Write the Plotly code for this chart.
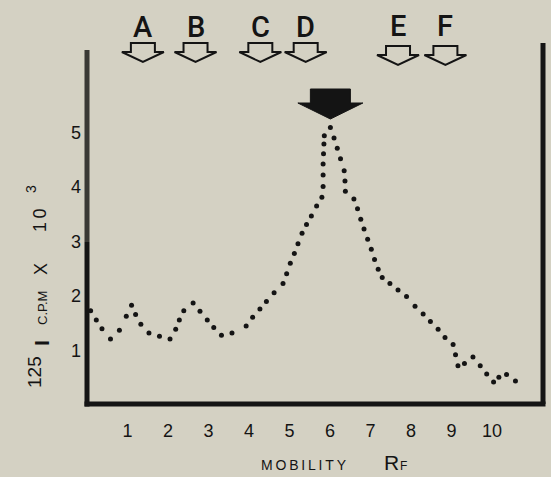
import plotly.graph_objects as go

# ---------------- data ----------------
mobility_rf = [0.09, 0.23, 0.37, 0.58, 0.80, 0.97, 1.10, 1.20, 1.33, 1.53, 1.79, 2.05,
               2.19, 2.28, 2.39, 2.62, 2.79, 2.97, 3.13, 3.32, 3.58, 3.93, 4.09, 4.27,
               4.43, 4.62, 4.84, 4.93, 5.02, 5.12, 5.21, 5.31, 5.42, 5.54, 5.67, 5.80,
               5.83, 5.83, 5.83, 5.84, 5.85, 5.86, 6.01, 6.10, 6.18, 6.26, 6.35, 6.37,
               6.38, 6.59, 6.68, 6.76, 6.84, 6.93, 7.02, 7.10, 7.19, 7.29, 7.48, 7.68,
               7.89, 8.10, 8.30, 8.48, 8.67, 8.84, 9.04, 9.10, 9.16, 9.32, 9.53, 9.71,
               9.87, 10.04, 10.17, 10.36, 10.58]
cpm_x1000 = [1.73, 1.56, 1.40, 1.21, 1.37, 1.63, 1.83, 1.66, 1.48, 1.32, 1.26, 1.21,
             1.39, 1.56, 1.73, 1.87, 1.72, 1.56, 1.42, 1.28, 1.32, 1.45, 1.61, 1.76,
             1.90, 2.06, 2.23, 2.41, 2.60, 2.78, 2.96, 3.15, 3.31, 3.47, 3.65, 3.81,
             4.01, 4.22, 4.42, 4.61, 4.79, 4.94, 5.09, 4.90, 4.71, 4.52, 4.30, 4.11,
             3.92, 3.78, 3.60, 3.41, 3.23, 3.04, 2.86, 2.67, 2.49, 2.34, 2.23, 2.11,
             1.99, 1.81, 1.67, 1.53, 1.39, 1.24, 1.11, 0.92, 0.72, 0.76, 0.88, 0.72,
             0.57, 0.42, 0.51, 0.56, 0.44]
band_labels = ["A", "B", "C", "D", "E", "F"]
band_rf = [1.38, 2.68, 4.28, 5.40, 7.68, 8.85]
peak_rf = 6.01
x_tick_vals = [1, 2, 3, 4, 5, 6, 7, 8, 9, 10]
y_tick_vals = [1, 2, 3, 4, 5]

# ---------------- layout constants ----------------
W, H = 551, 477
ML, MR, MT, MB = 87, 8, 10, 72
X_MAX = 11.26
Y_MAX = 7.248
PW = W - ML - MR
PH = H - MT - MB
SX = PW / X_MAX
SY = PH / Y_MAX
BG = "#d4d1c3"
INK = "#141414"
ARROW_TOP_PX = [43, 43, 43, 43, 46, 46]
LETTER_Y_PX = [27, 27, 27, 27, 26, 26]
THIN = "\u2009"


def pxx(px):
    return (px - ML) / PW


def pxy(py):
    return (H - MB - py) / PH


def ydata(py):
    return (H - MB - py) / SY


fig = go.Figure()
fig.add_trace(go.Scatter(
    x=mobility_rf, y=cpm_x1000, mode="markers",
    marker=dict(size=5, color=INK), cliponaxis=False, hoverinfo="skip"))

shapes = []
annotations = []

# open arrows with letters
open_pts = [(-12, 0), (12, 0), (12, 9), (21, 9), (0, 19), (-21, 9), (-12, 9)]
for lab, xc, top, ly in zip(band_labels, band_rf, ARROW_TOP_PX, LETTER_Y_PX):
    path = ""
    for i, (dx, dy) in enumerate(open_pts):
        path += ("M" if i == 0 else "L") + f"{xc + dx / SX:.4f},{ydata(top + dy):.4f} "
    path += "Z"
    shapes.append(dict(type="path", xref="x", yref="y", path=path,
                       line=dict(color=INK, width=2), fillcolor="rgba(0,0,0,0)"))
    annotations.append(dict(x=xc, y=pxy(ly), xref="x", yref="paper", text=lab,
                            showarrow=False, xanchor="center", yanchor="middle",
                            font=dict(family="Roboto, Liberation Sans, Arial", size=29,
                                      color=INK, weight=500)))

# solid peak arrow
solid_pts = [(-20, 0), (20, 0), (20, 14), (32.5, 14), (0, 30), (-32.5, 14), (-20, 14)]
path = ""
for i, (dx, dy) in enumerate(solid_pts):
    path += ("M" if i == 0 else "L") + f"{peak_rf + dx / SX:.4f},{ydata(89 + dy):.4f} "
path += "Z"
shapes.append(dict(type="path", xref="x", yref="y", path=path,
                   line=dict(color=INK, width=1), fillcolor=INK))

# frame lines
shapes += [
    dict(type="line", xref="paper", yref="paper", x0=0, x1=0, y0=pxy(406.5), y1=pxy(242),
         line=dict(color=INK, width=5)),
    dict(type="line", xref="paper", yref="paper", x0=0, x1=0, y0=pxy(242), y1=pxy(50),
         line=dict(color="#3a3935", width=5)),
    dict(type="line", xref="paper", yref="paper", x0=pxx(84.5), x1=pxx(545.5), y0=pxy(404), y1=pxy(404),
         line=dict(color=INK, width=5)),
    dict(type="line", xref="paper", yref="paper", x0=pxx(543), x1=pxx(543), y0=pxy(404), y1=pxy(43),
         line=dict(color=INK, width=5)),
]

# y-axis title pieces (rotated)
ytitle = [("125", 34, 372, 19, "Liberation Sans"),
          ("<b>I</b>", 41, 343, 21, "Liberation Sans"),
          ("C.P.M", 42, 308, 13, "Liberation Sans"),
          ("X", 41, 269, 18, "Liberation Sans"),
          ("1" + THIN + "0", 40, 220, 18, "Liberation Sans"),
          ("3", 31, 189, 14, "Liberation Sans")]
for txt, cx, cy, sz, fam in ytitle:
    annotations.append(dict(x=pxx(cx), y=pxy(cy), xref="paper", yref="paper", text=txt,
                            textangle=-90, showarrow=False, xanchor="center", yanchor="middle",
                            font=dict(family=fam, size=sz, color=INK)))

# x-axis title pieces
xtitle = [(THIN.join("MOBILITY"), 304, 465, 14, "Liberation Sans"),
          ("R", 391, 463, 21, "Liberation Sans"),
          ("F", 403.5, 465.5, 12, "Liberation Sans")]
for txt, cx, cy, sz, fam in xtitle:
    annotations.append(dict(x=pxx(cx), y=pxy(cy), xref="paper", yref="paper", text=txt,
                            showarrow=False, xanchor="center", yanchor="middle",
                            font=dict(family=fam, size=sz, color=INK)))

fig.update_layout(
    width=W, height=H,
    margin=dict(l=ML, r=MR, t=MT, b=MB, pad=0),
    paper_bgcolor=BG, plot_bgcolor=BG,
    showlegend=False,
    shapes=shapes, annotations=annotations,
    xaxis=dict(range=[0, X_MAX], tickvals=x_tick_vals, showgrid=False, zeroline=False,
               showline=False, ticks="", ticklabelstandoff=13,
               tickfont=dict(family="Liberation Sans, Arial", size=18, color=INK)),
    yaxis=dict(range=[0, Y_MAX], tickvals=y_tick_vals, showgrid=False, zeroline=False,
               showline=False, ticks="", ticklabelstandoff=5,
               tickfont=dict(family="Liberation Sans, Arial", size=18, color=INK)),
)

fig.write_html("out.html", config={"displayModeBar": False},
               post_script="document.body.style.margin='0';document.body.style.background='" + BG + "';")
